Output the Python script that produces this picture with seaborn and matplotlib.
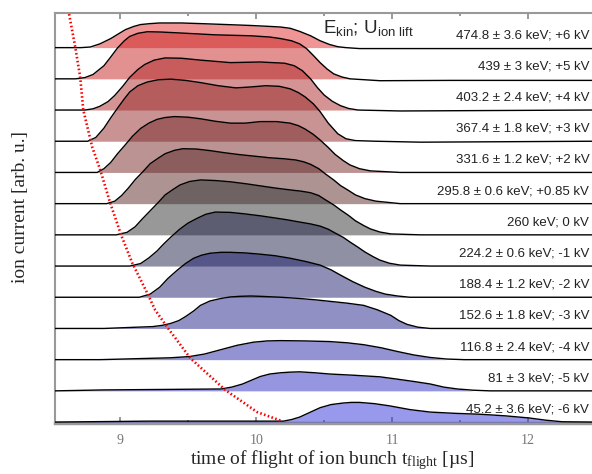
import numpy as np
import seaborn as sns
import matplotlib.pyplot as plt

# ridge labels, top to bottom
labels = ['474.8 ± 3.6 keV; +6 kV', '439 ± 3 keV; +5 kV', '403.2 ± 2.4 keV; +4 kV',
          '367.4 ± 1.8 keV; +3 kV', '331.6 ± 1.2 keV; +2 kV', '295.8 ± 0.6 keV; +0.85 kV',
          '260 keV; 0 kV', '224.2 ± 0.6 keV; -1 kV', '188.4 ± 1.2 keV; -2 kV',
          '152.6 ± 1.8 keV; -3 kV', '116.8 ± 2.4 keV; -4 kV', '81 ± 3 keV; -5 kV',
          '45.2 ± 3.6 keV; -6 kV']

# time of flight [us] and signal height [arb. u.] for every ridge
t1 = [8.52, 8.71, 8.78, 8.85, 8.93, 8.99, 9.04, 9.10, 9.15, 9.22, 9.29, 9.45, 9.59, 9.78, 9.96, 10.10, 10.18, 10.25, 10.32, 10.40, 10.47, 10.54, 10.60, 10.66, 10.76, 11.21, 12.47]
h1 = [0, 0, 0.02, 0.12, 0.29, 0.45, 0.58, 0.68, 0.74, 0.77, 0.79, 0.79, 0.77, 0.74, 0.71, 0.68, 0.66, 0.62, 0.52, 0.38, 0.22, 0.10, 0.03, 0.0, -0.03, -0.03, -0.03]
t2 = [8.52, 8.67, 8.74, 8.80, 8.88, 8.93, 8.98, 9.03, 9.07, 9.13, 9.20, 9.30, 9.44, 9.70, 9.96, 10.10, 10.18, 10.26, 10.32, 10.37, 10.42, 10.47, 10.52, 10.57, 10.63, 10.69, 10.91, 11.43, 12.47]
h2 = [0, 0, 0.04, 0.14, 0.42, 0.70, 0.99, 1.22, 1.36, 1.46, 1.51, 1.50, 1.47, 1.41, 1.38, 1.34, 1.29, 1.22, 1.12, 0.97, 0.75, 0.52, 0.32, 0.16, 0.06, 0.0, -0.06, -0.05, -0.05]
t3 = [8.52, 8.74, 8.80, 8.85, 8.91, 8.96, 9.02, 9.07, 9.13, 9.18, 9.25, 9.33, 9.45, 9.59, 9.81, 10.03, 10.21, 10.28, 10.34, 10.40, 10.45, 10.50, 10.56, 10.62, 10.68, 10.75, 11.06, 12.47]
h3 = [0, 0, 0.04, 0.12, 0.27, 0.47, 0.77, 1.05, 1.30, 1.46, 1.60, 1.67, 1.66, 1.60, 1.52, 1.54, 1.50, 1.42, 1.26, 1.00, 0.72, 0.48, 0.28, 0.14, 0.05, 0, -0.03, 0]
t4 = [8.52, 8.76, 8.82, 8.88, 8.93, 8.98, 9.03, 9.07, 9.13, 9.20, 9.28, 9.37, 9.48, 9.59, 9.72, 9.85, 9.96, 10.07, 10.17, 10.25, 10.31, 10.36, 10.42, 10.47, 10.53, 10.60, 10.66, 10.73, 10.88, 11.21, 12.47]
h4 = [0, 0, 0.12, 0.42, 0.75, 1.06, 1.36, 1.58, 1.78, 1.90, 1.97, 1.99, 1.95, 1.88, 1.78, 1.71, 1.74, 1.78, 1.76, 1.68, 1.56, 1.42, 1.20, 0.95, 0.58, 0.24, 0.08, 0.02, 0, -0.03, 0]
t5 = [8.52, 8.83, 8.88, 8.93, 8.98, 9.04, 9.09, 9.15, 9.21, 9.27, 9.33, 9.40, 9.50, 9.59, 9.70, 9.81, 9.92, 10.03, 10.15, 10.25, 10.31, 10.36, 10.42, 10.47, 10.53, 10.58, 10.64, 10.69, 10.76, 10.84, 11.06, 12.47]
h5 = [0, 0, 0.12, 0.32, 0.60, 0.90, 1.16, 1.41, 1.58, 1.70, 1.76, 1.79, 1.77, 1.72, 1.64, 1.58, 1.58, 1.63, 1.63, 1.58, 1.50, 1.39, 1.22, 1.04, 0.80, 0.58, 0.38, 0.24, 0.12, 0.05, 0, 0]
t6 = [8.52, 8.90, 8.96, 9.01, 9.06, 9.11, 9.17, 9.22, 9.28, 9.33, 9.40, 9.46, 9.56, 9.66, 9.77, 9.88, 9.99, 10.10, 10.20, 10.29, 10.35, 10.40, 10.46, 10.51, 10.57, 10.62, 10.68, 10.73, 10.80, 10.88, 11.06, 12.47]
h6 = [0, 0, 0.08, 0.26, 0.50, 0.77, 1.04, 1.28, 1.46, 1.60, 1.71, 1.76, 1.75, 1.70, 1.63, 1.57, 1.52, 1.47, 1.44, 1.40, 1.34, 1.26, 1.12, 0.95, 0.76, 0.58, 0.42, 0.28, 0.16, 0.08, 0, 0]
t7 = [8.52, 8.97, 9.05, 9.11, 9.16, 9.22, 9.28, 9.33, 9.39, 9.44, 9.51, 9.59, 9.70, 9.81, 9.92, 10.03, 10.14, 10.25, 10.33, 10.40, 10.46, 10.51, 10.57, 10.62, 10.68, 10.73, 10.79, 10.84, 10.91, 10.99, 11.21, 12.47]
h7 = [0, 0, 0.08, 0.26, 0.50, 0.77, 1.04, 1.28, 1.46, 1.60, 1.71, 1.76, 1.74, 1.70, 1.64, 1.57, 1.50, 1.44, 1.40, 1.35, 1.26, 1.12, 0.96, 0.80, 0.62, 0.45, 0.30, 0.19, 0.09, 0.03, 0, 0]
t8 = [8.52, 9.07, 9.15, 9.21, 9.27, 9.32, 9.38, 9.44, 9.50, 9.57, 9.63, 9.70, 9.81, 9.92, 10.03, 10.14, 10.23, 10.32, 10.40, 10.47, 10.53, 10.58, 10.64, 10.69, 10.75, 10.80, 10.86, 10.91, 10.98, 11.06, 11.28, 12.47]
h8 = [0, 0, 0.08, 0.26, 0.48, 0.71, 0.96, 1.19, 1.38, 1.54, 1.66, 1.73, 1.72, 1.67, 1.61, 1.54, 1.48, 1.41, 1.35, 1.28, 1.18, 1.06, 0.92, 0.77, 0.60, 0.45, 0.30, 0.19, 0.09, 0.03, 0, 0]
t9 = [8.52, 8.85, 9.14, 9.22, 9.29, 9.35, 9.42, 9.48, 9.54, 9.60, 9.66, 9.74, 9.81, 9.92, 10.03, 10.14, 10.25, 10.36, 10.47, 10.55, 10.62, 10.71, 10.80, 10.88, 10.95, 11.04, 11.13, 11.35, 12.47]
h9 = [0, 0, 0, 0.10, 0.32, 0.60, 0.87, 1.08, 1.25, 1.35, 1.41, 1.44, 1.44, 1.42, 1.38, 1.33, 1.25, 1.15, 1.03, 0.88, 0.71, 0.50, 0.32, 0.19, 0.10, 0.04, 0, 0, 0]
t10 = [8.52, 8.88, 9.24, 9.31, 9.37, 9.43, 9.48, 9.54, 9.59, 9.66, 9.74, 9.81, 9.88, 9.96, 10.03, 10.18, 10.32, 10.43, 10.54, 10.67, 10.79, 10.89, 10.99, 11.05, 11.11, 11.19, 11.28, 11.57, 12.47]
h10 = [0, 0, 0.06, 0.10, 0.16, 0.25, 0.38, 0.56, 0.74, 0.88, 0.96, 1.01, 1.03, 1.04, 1.03, 1.00, 0.96, 0.92, 0.87, 0.81, 0.74, 0.60, 0.42, 0.25, 0.13, 0.04, 0, 0, 0]
t11 = [8.52, 8.85, 9.37, 9.51, 9.62, 9.74, 9.86, 9.98, 10.08, 10.18, 10.36, 10.54, 10.67, 10.79, 10.92, 11.04, 11.16, 11.28, 11.40, 11.53, 11.79, 12.47]
h11 = [0, 0, 0.06, 0.10, 0.18, 0.32, 0.46, 0.56, 0.60, 0.61, 0.60, 0.58, 0.54, 0.48, 0.38, 0.26, 0.15, 0.07, 0.02, 0, 0, 0]
t12 = [8.52, 8.88, 9.74, 9.82, 9.90, 9.97, 10.03, 10.10, 10.18, 10.25, 10.32, 10.43, 10.54, 10.72, 10.91, 11.03, 11.16, 11.28, 11.38, 11.48, 11.60, 11.72, 12.47]
h12 = [0, 0.03, 0.06, 0.12, 0.22, 0.35, 0.46, 0.54, 0.58, 0.60, 0.61, 0.58, 0.54, 0.50, 0.45, 0.38, 0.30, 0.22, 0.12, 0.06, 0.02, 0, 0]
t13 = [8.52, 9.22, 10.20, 10.26, 10.32, 10.40, 10.47, 10.55, 10.64, 10.70, 10.76, 10.87, 10.98, 11.13, 11.28, 11.46, 11.65, 11.83, 12.01, 12.13, 12.25, 12.47]
h13 = [0, 0.03, 0.03, 0.08, 0.16, 0.32, 0.46, 0.56, 0.61, 0.63, 0.63, 0.59, 0.52, 0.40, 0.32, 0.28, 0.25, 0.20, 0.13, 0.06, 0.01, 0]

# red dotted curve (arrival of the bunch front)
front_t = [8.618, 8.669, 8.706, 8.728, 8.794, 8.853, 8.926, 9.007, 9.088, 9.199, 9.257, 9.346, 9.515, 9.772, 10.007, 10.19]
front_y = [13.2, 12.02, 11.03, 10.0, 8.81, 8.08, 7.02, 5.99, 5.10, 4.13, 3.59, 3.04, 2.05, 1.03, 0.32, 0.03]

colors = [(225, 45, 45), (200, 35, 35), (175, 40, 40), (150, 40, 40), (120, 40, 40), (95, 40, 40),
          (50, 50, 50), (35, 35, 75), (30, 30, 110), (35, 35, 140), (40, 40, 170), (45, 45, 195), (50, 50, 220)]
colors = [tuple(v / 255 for v in c) for c in colors]

ts = [t1, t2, t3, t4, t5, t6, t7, t8, t9, t10, t11, t12, t13]
hs = [h1, h2, h3, h4, h5, h6, h7, h8, h9, h10, h11, h12, h13]

sns.set_style('white')
plt.rcParams['mathtext.default'] = 'regular'

fig = plt.figure(figsize=(5.92, 4.74), dpi=100)
ax = fig.add_axes([55 / 592, 51 / 474, 537 / 592, 410 / 474])

n = len(ts)
# fills first (top ridge first), then the outlines
for i in range(n):
    base = n - 1 - i
    t = np.array(ts[i])
    h = np.array(hs[i])
    ax.fill_between(t, base, base + h, where=h > 0.02, interpolate=True,
                    color=colors[i], alpha=0.5, lw=0, zorder=2 + i)

for i in range(n):
    base = n - 1 - i
    sns.lineplot(x=np.array(ts[i]), y=base + np.array(hs[i]), ax=ax, color='black',
                 lw=1.0, sort=False, estimator=None, zorder=20, solid_joinstyle='round')
    ax.text(12.45, base + 0.4, labels[i], ha='right', va='center', fontsize=9.5,
            family='Liberation Sans', color='#222222', zorder=25)

sns.lineplot(x=front_t, y=front_y, ax=ax, color='red', lw=1.9, sort=False, estimator=None,
             linestyle=(0, (0.6, 0.9)), zorder=22)

ax.text(10.49, 12.62, r'E$_{kin}$; U$_{ion\ lift}$', fontsize=13.5, family='Liberation Sans',
        ha='left', va='center', zorder=25)

ax.set_xlim(8.52, 12.47)
ax.set_ylim(-0.03, 13.11)
ax.set_xticks([9, 10, 11, 12])
ax.set_xticklabels(['9', '10', '11', '12'], family='Liberation Serif', fontsize=10, color='#777777')
ax.set_xticks([9.5, 10.5, 11.5], minor=True)
ax.set_yticks([])
ax.tick_params(axis='x', which='both', direction='in', top=True, bottom=True, color='#888888')
ax.tick_params(axis='x', which='major', length=4, width=1.2, pad=8)
ax.tick_params(axis='x', which='minor', length=2, width=1.2)

for s in ['left', 'top', 'bottom']:
    ax.spines[s].set_color('#999999')
ax.spines['bottom'].set_linewidth(2.5)
ax.spines['top'].set_linewidth(1.5)
ax.spines['left'].set_linewidth(1.5)
ax.spines['right'].set_visible(False)

ax.set_xlabel(r'time of flight of ion bunch t$_{flight}$ [µs]', family='Liberation Serif',
              fontsize=14)
ax.xaxis.set_label_coords(0.516, -0.062)
ax.set_ylabel('ion current [arb. u.]', family='Liberation Serif', fontsize=14)
ax.yaxis.set_label_coords(-0.048, 0.527)

fig.savefig('out.png', dpi=100)
